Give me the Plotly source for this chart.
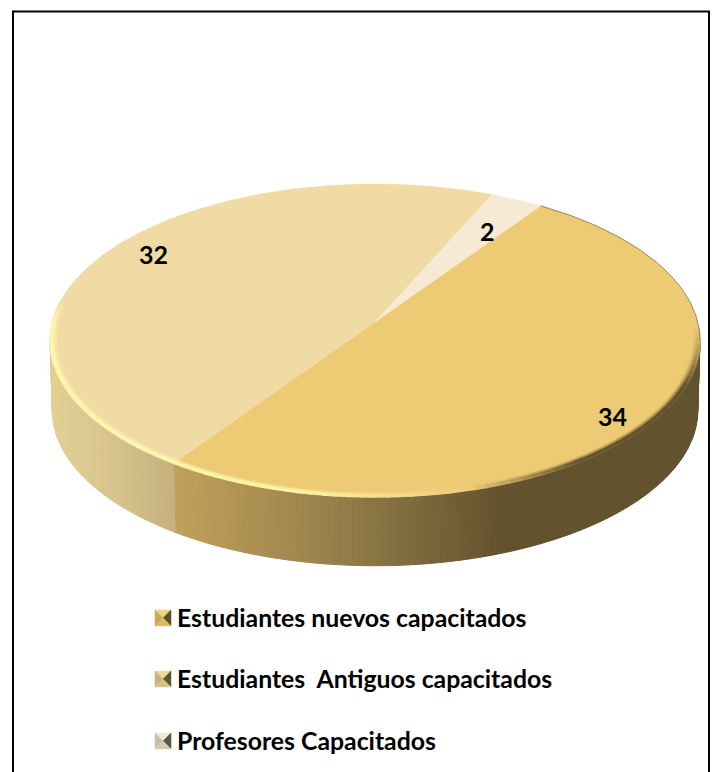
import numpy as np
import plotly.graph_objects as go

categories = ['Estudiantes nuevos capacitados', 'Estudiantes  Antiguos capacitados', 'Profesores Capacitados']
values = [34, 32, 2]
top_colors = ['#edcb74', '#f0dba5', '#f6ead4']
top_rgb = [[237, 203, 116], [240, 219, 165], [246, 234, 212]]
# Side shading (x pixel, colour)
side_stops_x = [[50, 178, 300, 400, 500, 700], [50, 110, 178, 300, 400, 500]]
side_stops_rgb = [
	[[196, 166, 96], [192, 160, 90], [160, 135, 78], [130, 110, 64], [99, 82, 46], [99, 82, 46]],
	[[226, 208, 148], [216, 196, 140], [196, 176, 125], [180, 160, 110], [160, 140, 100], [140, 120, 90]],
]
key_colors = [
	['#f0d280', '#c9aa5c', '#5f4f2a', '#dcb964'],
	['#ecd9a0', '#c9b47c', '#5f5433', '#d5c086'],
	['#f0e8d4', '#c9c0a8', '#5c5645', '#d3cab2'],
]
start_angle = 34.3

# Perspective of the disc: unit circle to page pixels
x_center, y_center = 375, 322
width_radius, height_radius, perspective = 322.7, 154.3, 0.118
depth = 70

def project(angle_deg, r = 1.0, shrink = 1.0, drop = 0):
	angle = np.radians(angle_deg)
	X, Y = r*np.sin(angle), r*np.cos(angle)
	w = 1 + perspective*Y
	return x_center + shrink*width_radius*X/w, y_center - shrink*height_radius*Y/w + drop

def side_color(n_slice, x):
	rgb = [np.interp(x, side_stops_x[n_slice], [c[i] for c in side_stops_rgb[n_slice]]) for i in range(3)]
	return f'rgb({rgb[0]:.0f},{rgb[1]:.0f},{rgb[2]:.0f})'

def slice_at(a, spans):
	for n_slice, (a0, a1) in enumerate(spans):
		if a0 <= a < a1 or a0 <= a + 360 < a1:
			return n_slice
	return 0

def bevel_at(a):
	# Colour and strength of the rim bevel at one angle
	x_mid = project(a)[0]
	top_half = np.cos(np.radians(a)) > 0
	if top_half and x_mid < 470:
		return [255, 250, 175], max(0, min(1, (62 - x_mid)/12))
	if x_mid < 470:
		return [255, 250, 175], min(1, (470 - x_mid)/170)
	if top_half:
		return [70, 58, 30], 0.0
	return [80, 66, 34], min(1, (x_mid - 470)/110)*min(1, (a - 92)/22)

fig = go.Figure()

spans = []
angle = start_angle
for v in values:
	spans.append((angle, angle + 360*v/sum(values)))
	angle = spans[-1][1]

# Side wall, only the front part of the disc is visible ---
# Angles of the widest points, where the front wall begins and ends
right_limit = np.degrees(np.arctan2(1, -perspective))
left_limit = 360 - right_limit
for n_slice, (a0, a1) in enumerate(spans[:2]):
	a_from = max(a0, right_limit)
	a_to = min(a1, left_limit)
	steps = np.arange(a_from, a_to, 1.0).tolist() + [a_to]
	for s0, s1 in zip(steps[:-1], steps[1:]):
		x0, y0 = project(s0)
		x1, y1 = project(s1)
		x2, y2 = project(s1, shrink = 0.993, drop = depth)
		x3, y3 = project(s0, shrink = 0.993, drop = depth)
		color = side_color(n_slice, (x0 + x1)/2)
		fig.add_trace(go.Scatter(
			x = [x0, x1, x2, x3, x0],
			y = [y0, y1, y2, y3, y0],
			mode = 'lines',
			fill = 'toself',
			fillcolor = color,
			line = dict(color = color, width = 1),
			hoverinfo = 'skip',
		))

# Top face ---
for n_slice, (a0, a1) in enumerate(spans):
	angles = np.linspace(a0, a1, 200)
	xs, ys = project(angles)
	fig.add_trace(go.Scatter(
		x = [x_center, *xs, x_center],
		y = [y_center, *ys, y_center],
		mode = 'lines',
		fill = 'toself',
		fillcolor = top_colors[n_slice],
		line = dict(color = top_colors[n_slice], width = 0.5),
		name = categories[n_slice],
		text = f'{categories[n_slice]}: {values[n_slice]}',
		hoverinfo = 'text',
	))

# Bevel along the rim in solid rings, faint inside and strong at the edge ---
ring_radius = [0.980, 0.985, 0.990, 0.995, 0.999]
ring_strength = [0.15, 0.4, 0.75, 0.95, 0.8]
for r, ring in zip(ring_radius, ring_strength):
	for a in np.arange(0, 360, 2.0):
		bevel_rgb, strength = bevel_at(a + 1)
		if strength <= 0:
			continue
		base = top_rgb[slice_at((a + 1) % 360, spans)]
		mix = [base[i] + (bevel_rgb[i] - base[i])*strength*ring for i in range(3)]
		xs, ys = project(np.array([a, a + 2.3]), r = r)
		fig.add_trace(go.Scatter(
			x = xs,
			y = ys,
			mode = 'lines',
			line = dict(color = f'rgb({mix[0]:.0f},{mix[1]:.0f},{mix[2]:.0f})', width = 2),
			hoverinfo = 'skip',
		))

# Thin shadow on the far right edge
xs, ys = project(np.linspace(spans[0][0], right_limit, 60))
fig.add_trace(go.Scatter(
	x = xs,
	y = ys,
	mode = 'lines',
	line = dict(color = 'rgba(90,75,40,0.55)', width = 1),
	hoverinfo = 'skip',
))

# Legend keys, small bevelled squares ---
key_size = 16
key_left = 155
key_tops = [610, 671, 733]
for key_top, colors in zip(key_tops, key_colors):
	left, right, top, bottom = key_left, key_left + key_size, key_top, key_top + key_size
	mid_x, mid_y = (left + right)/2, (top + bottom)/2
	corners = [
		[(left, top), (right, top)],
		[(left, top), (left, bottom)],
		[(right, top), (right, bottom)],
		[(left, bottom), (right, bottom)],
	]
	for (p0, p1), color in zip(corners, colors):
		fig.add_trace(go.Scatter(
			x = [p0[0], p1[0], mid_x, p0[0]],
			y = [p0[1], p1[1], mid_y, p0[1]],
			mode = 'lines',
			fill = 'toself',
			fillcolor = color,
			line = dict(color = color, width = 0.5),
			hoverinfo = 'skip',
		))

text_font = dict(family = 'Lato, Carlito, Calibri, sans-serif', size = 25, color = 'black', weight = 'bold')
legend_font = dict(family = 'Lato, Carlito, Calibri, sans-serif', size = 24.8, color = 'black', weight = 'bold')

for category, key_top in zip(categories, key_tops):
	fig.add_annotation(
		x = key_left + key_size + 4,
		y = key_top + key_size/2 - 1,
		text = category.replace('  ', '&nbsp; '),
		showarrow = False,
		xanchor = 'left',
		yanchor = 'middle',
		font = legend_font,
	)

# Data labels, on the mid angle of every slice
label_radius = [0.8, 0.85, 0.72]
label_shift_x = [12, 7, 8]
label_shift_y = [-21, 7, 1]
for value, (a0, a1), r, shift_x, shift_y in zip(values, spans, label_radius, label_shift_x, label_shift_y):
	x_label, y_label = project((a0 + a1)/2, r = r)
	fig.add_annotation(
		x = x_label,
		y = y_label,
		xshift = shift_x,
		yshift = shift_y,
		text = str(value),
		showarrow = False,
		font = text_font,
	)

fig.update_layout(
	width = 718,
	height = 772,
	margin = dict(l = 0, r = 0, t = 0, b = 0),
	paper_bgcolor = 'white',
	plot_bgcolor = 'white',
	showlegend = False,
	xaxis = dict(range = [0, 718], visible = False, fixedrange = True),
	yaxis = dict(range = [772, 0], visible = False, fixedrange = True),
	shapes = [dict(
		type = 'rect',
		xref = 'x',
		yref = 'y',
		x0 = 13,
		y0 = 11.5,
		x1 = 709,
		y1 = 790,
		line = dict(color = 'black', width = 2),
		layer = 'below',
	)],
)

fig.write_html(
	'out.html',
	config = dict(displayModeBar = False),
	post_script = "document.body.style.margin='0';document.body.style.overflow='hidden';",
)
